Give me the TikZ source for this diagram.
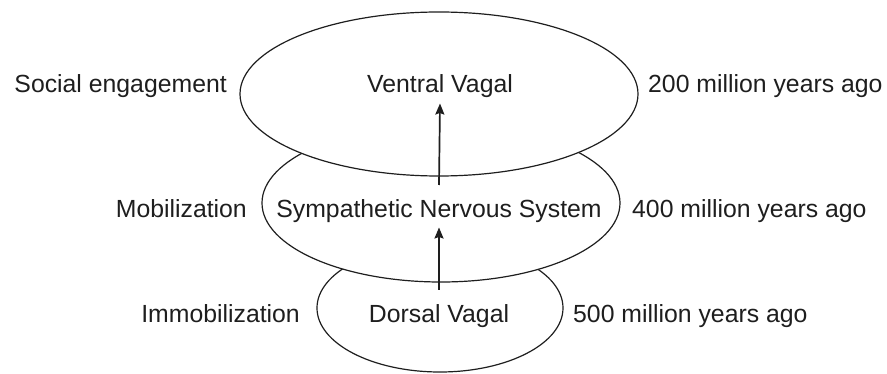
\documentclass[tikz,border=0pt]{standalone}
\usepackage{fontspec}
\setmainfont{Liberation Sans}
\usetikzlibrary{shapes.geometric,arrows.meta}
\definecolor{ink}{HTML}{1E1E1E}
\begin{document}
\begin{tikzpicture}[x=1pt,y=-1pt,
  layer/.style={draw=ink,line width=1.2pt,fill=white,ellipse,inner sep=0pt},
  label/.style={text=ink,font=\fontsize{24.8}{30}\selectfont,inner sep=0pt,
                text height=17.8pt,text depth=5.3pt},
  rise/.style={draw=ink,line width=1.7pt,-{Stealth[length=11pt,width=9pt,inset=1.5pt]}}]
\useasboundingbox (0,0) rectangle (887,374);

% stacked layers, lowest first so each one covers the one beneath it
\node[layer,minimum width=246pt,minimum height=128pt] (low) at (440,308) {};
\node[layer,minimum width=358pt,minimum height=158pt] (mid) at (441,203) {};
\node[layer,minimum width=398pt,minimum height=164pt] (top) at (439,94) {};

% system names inside the layers
\node[label,anchor=base] (vv)  at (440,93)  {Ventral Vagal};
\node[label,anchor=base] (sns) at (439,218) {Sympathetic Nervous System};
\node[label,anchor=base] (dv)  at (439,323) {Dorsal Vagal};

% responses on the left
\node[label,anchor=base east] (soc) at (227,93)  {Social engagement};
\node[label,anchor=base east] (mob) at (247,218) {Mobilization};
\node[label,anchor=base east] (imm) at (300,323) {Immobilization};

% ages on the right
\node[label,anchor=base west] (a200) at (648,93)  {200 million years ago};
\node[label,anchor=base west] (a400) at (632,218) {400 million years ago};
\node[label,anchor=base west] (a500) at (573,323) {500 million years ago};

% evolutionary order: each arrow starts just above the lower name
% and stops just below the upper one
\draw[rise] ([yshift=15pt]dv.north)  -- ([yshift=-4pt]sns.south);
\draw[rise] ([yshift=15pt]sns.north) -- ([yshift=-5pt]vv.south);
\end{tikzpicture}
\end{document}
